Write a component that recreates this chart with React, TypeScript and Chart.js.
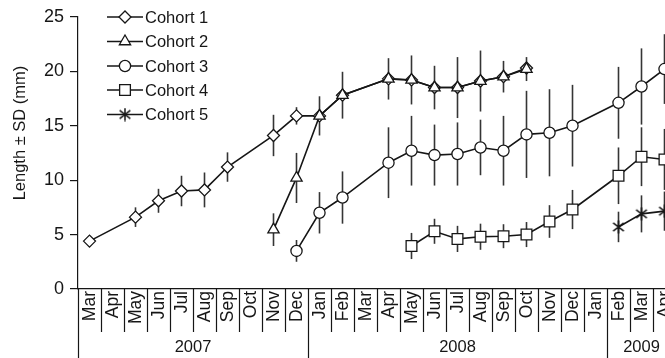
import React, { useEffect, useRef } from 'react';
import { Chart, registerables } from 'chart.js';

Chart.register(...registerables);

const months = ['Mar', 'Apr', 'May', 'Jun', 'Jul', 'Aug', 'Sep', 'Oct', 'Nov', 'Dec',
  'Jan', 'Feb', 'Mar', 'Apr', 'May', 'Jun', 'Jul', 'Aug', 'Sep', 'Oct', 'Nov', 'Dec',
  'Jan', 'Feb', 'Mar', 'Apr'];
const yearLabels = ['2007', '2008', '2009'];
const yearSpans = [10, 13, 3];
const yTicks = [0, 5, 10, 15, 20, 25];
const seriesNames = ['Cohort 1', 'Cohort 2', 'Cohort 3', 'Cohort 4', 'Cohort 5'];
const yTitle = 'Length ± SD (mm)';

const N = null;
const cohort1 = [4.4, N, 6.6, 8.1, 9.0, 9.1, 11.2, N, 14.1, 15.9, 15.9, 17.8, N, 19.3, 19.2, 18.5, 18.5, 19.1, 19.5, 20.3, N, N, N, N, N, N];
const cohort1SD = [0.5, N, 0.9, 1.1, 1.4, 1.6, 1.35, N, 1.9, 0.8, N, N, N, N, N, N, N, N, N, N, N, N, N, N, N, N];
const cohort2 = [N, N, N, N, N, N, N, N, 5.45, 10.2, 15.9, 17.8, N, 19.3, 19.2, 18.5, 18.5, 19.1, 19.5, 20.2, N, N, N, N, N, N];
const cohort2SD = [N, N, N, N, N, N, N, N, 1.5, 2.3, 1.8, 2.15, N, 1.9, 2.25, 2.0, 2.8, 2.8, 1.45, 1.1, N, N, N, N, N, N];
const cohort3 = [N, N, N, N, N, N, N, N, N, 3.5, 7.0, 8.4, N, 11.6, 12.7, 12.3, 12.4, 13.0, 12.7, 14.2, 14.35, 15.0, N, 17.1, 18.6, 20.2];
const cohort3SD = [N, N, N, N, N, N, N, N, N, 1.0, 1.9, 2.4, N, 3.25, 3.2, 2.8, 2.9, 2.55, 3.2, 4.0, 4.0, 3.75, N, 3.3, 3.5, 3.2];
const cohort4 = [N, N, N, N, N, N, N, N, N, N, N, N, N, N, 3.95, 5.3, 4.6, 4.8, 4.85, 5.0, 6.2, 7.3, N, 10.4, 12.15, 11.9];
const cohort4SD = [N, N, N, N, N, N, N, N, N, N, N, N, N, N, 1.2, 1.15, 1.2, 1.2, 1.1, 1.15, 1.5, 1.8, N, 2.6, 2.7, 2.8];
const cohort5 = [N, N, N, N, N, N, N, N, N, N, N, N, N, N, N, N, N, N, N, N, N, N, N, 5.7, 6.9, 7.15];
const cohort5SD = [N, N, N, N, N, N, N, N, N, N, N, N, N, N, N, N, N, N, N, N, N, N, N, 1.4, 1.7, 1.8];

const FONT = '"Liberation Sans", Arial, sans-serif';
const INK = '#161616';

function makeAsterisk(): HTMLCanvasElement {
  const c = document.createElement('canvas');
  c.width = 14;
  c.height = 14;
  const g = c.getContext('2d')!;
  g.strokeStyle = INK;
  g.lineWidth = 1.5;
  g.beginPath();
  g.moveTo(7, 0.5);
  g.lineTo(7, 13.5);
  const a = (38 * Math.PI) / 180;
  const L = 6.8;
  g.moveTo(7 - L * Math.cos(a), 7 - L * Math.sin(a));
  g.lineTo(7 + L * Math.cos(a), 7 + L * Math.sin(a));
  g.moveTo(7 - L * Math.cos(a), 7 + L * Math.sin(a));
  g.lineTo(7 + L * Math.cos(a), 7 - L * Math.sin(a));
  g.stroke();
  return c;
}

function drawMarker(ctx: CanvasRenderingContext2D, style: any, r: number, x: number, y: number) {
  if (typeof style !== 'string') {
    ctx.drawImage(style, x - style.width / 2, y - style.height / 2);
    return;
  }
  ctx.save();
  ctx.fillStyle = '#fff';
  ctx.strokeStyle = INK;
  ctx.lineWidth = 1.3;
  ctx.beginPath();
  if (style === 'rectRot') {
    ctx.moveTo(x - r, y); ctx.lineTo(x, y - r); ctx.lineTo(x + r, y); ctx.lineTo(x, y + r);
    ctx.closePath();
  } else if (style === 'triangle') {
    for (let k = 0; k < 3; k++) {
      const ang = -Math.PI / 2 + (k * 2 * Math.PI) / 3;
      const px = x + r * Math.cos(ang);
      const py = y + r * Math.sin(ang);
      if (k === 0) ctx.moveTo(px, py); else ctx.lineTo(px, py);
    }
    ctx.closePath();
  } else if (style === 'circle') {
    ctx.arc(x, y, r, 0, Math.PI * 2);
  } else if (style === 'rect') {
    const s = r * Math.SQRT1_2;
    ctx.rect(x - s, y - s, 2 * s, 2 * s);
  }
  ctx.fill();
  ctx.stroke();
  ctx.restore();
}

export default function App() {
  const ref = useRef<HTMLCanvasElement>(null);

  useEffect(() => {
    const canvas = ref.current!;
    const asterisk = makeAsterisk();
    const values = [cohort1, cohort2, cohort3, cohort4, cohort5];
    const sds = [cohort1SD, cohort2SD, cohort3SD, cohort4SD, cohort5SD];
    const styles: any[] = ['rectRot', 'triangle', 'circle', 'rect', asterisk];
    const radii = [6, 6.5, 5.6, 7.6, 7];

    const datasets = values.map((v, i) => ({
      label: seriesNames[i],
      data: v,
      borderColor: INK,
      borderWidth: 1.6,
      backgroundColor: '#fff',
      pointStyle: styles[i],
      pointRadius: radii[i],
      pointBorderWidth: 1.3,
      pointBorderColor: INK,
      pointBackgroundColor: '#fff',
      spanGaps: true,
      tension: 0,
      order: i === 0 ? 1 : 0,
    }));

    const errorBars = {
      id: 'errorBars',
      beforeDatasetsDraw(chart: any) {
        const { ctx, scales } = chart;
        const xs = scales.x, ys = scales.y;
        ctx.save();
        ctx.strokeStyle = '#353535';
        ctx.lineWidth = 1.6;
        sds.forEach((sd, i) => {
          sd.forEach((s, j) => {
            const v = values[i][j];
            if (s == null || v == null) return;
            const x = xs.getPixelForValue(j);
            ctx.beginPath();
            ctx.moveTo(x, ys.getPixelForValue(v - s));
            ctx.lineTo(x, ys.getPixelForValue(v + s));
            ctx.stroke();
          });
        });
        ctx.restore();
      },
    };

    const decorations = {
      id: 'decorations',
      afterDraw(chart: any) {
        const { ctx, scales, chartArea } = chart;
        const xs = scales.x;
        const bottom = chartArea.bottom;
        const H = chart.height;
        const step = xs.getPixelForValue(1) - xs.getPixelForValue(0);
        ctx.save();
        // month labels
        ctx.fillStyle = INK;
        ctx.font = `17.5px ${FONT}`;
        months.forEach((m, i) => {
          const x = xs.getPixelForValue(i);
          ctx.save();
          ctx.translate(x, bottom + 2);
          ctx.rotate(-Math.PI / 2);
          ctx.textAlign = 'right';
          ctx.textBaseline = 'middle';
          ctx.fillText(m, 0, 1);
          ctx.restore();
        });
        // separators
        const yearStarts = new Set<number>();
        let acc = 0;
        yearSpans.forEach((s) => { yearStarts.add(acc); acc += s; });
        ctx.strokeStyle = INK;
        ctx.lineWidth = 1.2;
        for (let i = 0; i <= months.length; i++) {
          const x = Math.round(xs.getPixelForValue(i) - step / 2) + 0.5;
          const isYear = yearStarts.has(i);
          ctx.beginPath();
          ctx.moveTo(x, bottom);
          ctx.lineTo(x, isYear ? H : bottom + 43);
          ctx.stroke();
        }
        // year labels
        ctx.font = `16.5px ${FONT}`;
        ctx.textAlign = 'center';
        ctx.textBaseline = 'middle';
        acc = 0;
        yearLabels.forEach((yl, k) => {
          const x0 = xs.getPixelForValue(acc) - step / 2;
          const x1 = xs.getPixelForValue(acc + yearSpans[k] - 1) + step / 2;
          ctx.fillText(yl, (x0 + x1) / 2, bottom + 58);
          acc += yearSpans[k];
        });
        // y title
        ctx.save();
        ctx.translate(20, 133);
        ctx.rotate(-Math.PI / 2);
        ctx.font = `16.5px ${FONT}`;
        ctx.textAlign = 'center';
        ctx.textBaseline = 'middle';
        ctx.fillText(yTitle, 0, 0);
        ctx.restore();
        // legend
        const rowY = [17, 41.5, 66, 90, 114.5];
        seriesNames.forEach((name, i) => {
          const y = rowY[i];
          ctx.strokeStyle = INK;
          ctx.lineWidth = 1.6;
          ctx.beginPath();
          ctx.moveTo(107, y);
          ctx.lineTo(143, y);
          ctx.stroke();
          drawMarker(ctx, styles[i], radii[i], 125, y);
          ctx.fillStyle = INK;
          ctx.font = `16.5px ${FONT}`;
          ctx.textAlign = 'left';
          ctx.textBaseline = 'middle';
          ctx.fillText(name, 145, y + 1);
        });
        ctx.restore();
      },
    };

    const chart = new Chart(canvas, {
      type: 'line',
      data: { labels: months, datasets: datasets as any },
      options: {
        animation: false,
        responsive: false,
        maintainAspectRatio: false,
        layout: { padding: { left: 0, top: 15, right: 14, bottom: 69 } },
        plugins: { legend: { display: false }, tooltip: { enabled: false } },
        scales: {
          x: {
            type: 'category',
            offset: true,
            ticks: { display: false },
            grid: { display: false, drawTicks: false },
            border: { display: true, color: INK, width: 1.2 },
          },
          y: {
            min: 0,
            max: 25,
            afterBuildTicks: (scale: any) => { scale.ticks = yTicks.map((v) => ({ value: v })); },
            afterFit: (scale: any) => { scale.width = 78; },
            ticks: { color: INK, font: { size: 18, family: FONT }, padding: 6 },
            grid: { drawOnChartArea: false, drawTicks: true, tickLength: 8, color: INK, lineWidth: 1.2 },
            border: { display: true, color: INK, width: 1.2 },
          },
        },
      } as any,
      plugins: [errorBars, decorations],
    });
    return () => chart.destroy();
  }, []);

  return (
    <div style={{ position: 'absolute', left: 0, top: 0, width: 665, height: 358, overflow: 'hidden', background: '#fff' }}>
      <canvas ref={ref} width={690} height={358} style={{ display: 'block', width: 690, height: 358 }} />
    </div>
  );
}
